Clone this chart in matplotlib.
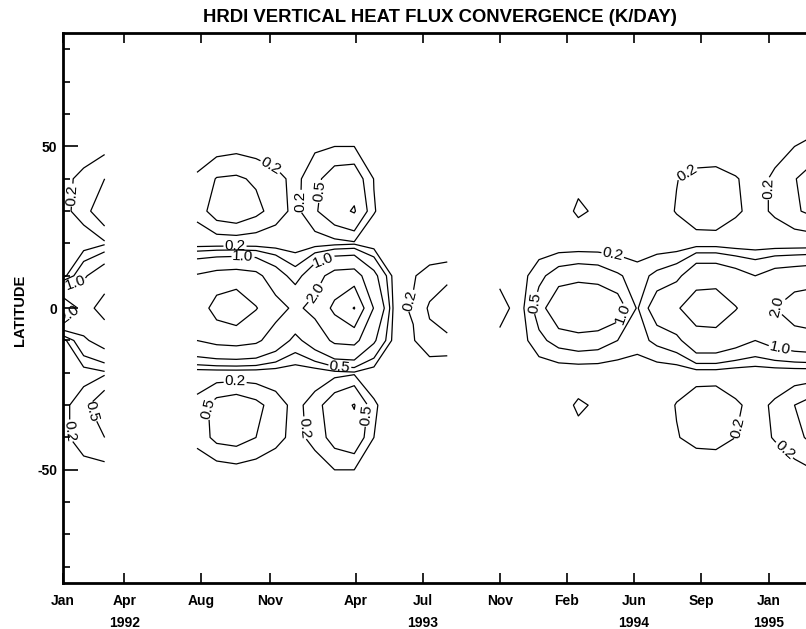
import numpy as np
import matplotlib
matplotlib.use("Agg")
import matplotlib.pyplot as plt

nan = float("nan")

# latitude rows of the grid
lats = [-60, -50, -40, -30, -20, -10, 0, 10, 20, 30, 40, 50, 60]

# sample times, days since 1 Jan 1992 (nan columns mark missing data)
days = [0, 32, 64, 135,
        205, 235, 265, 295, 325, 355, 385, 415, 445, 475, 505, 535, 560, 587, 627,
        667, 697, 727, 757, 787, 817, 847, 877, 907, 937, 967, 997, 1027, 1057,
        1087, 1117, 1147, 1177]

# vertical heat flux convergence (K/day), one latitude profile per time
conv = [
    [0, 0.0, 0.1, 0.1, 0.0, 0.05, 3.0, 0.05, 0.0, 0.1, 0.1, 0.0, 0],
    [0, 0.05, 0.4, 0.4, 0.05, 0.9, 1.6, 0.9, 0.0, 0.35, 0.3, 0.0, 0],
    [0, 0.1, 0.5, 0.8, 0.15, 1.3, 2.4, 1.5, 0.15, 0.8, 0.5, 0.1, 0],
    [nan] * 13,
    [0, 0.0, 0.3, 0.3, 0.0, 2.0, 2.4, 2.1, 0.0, 0.3, 0.25, 0.0, 0],
    [0, 0.05, 0.6, 0.65, 0.0, 2.3, 3.4, 2.4, 0.0, 0.7, 0.52, 0.05, 0],
    [0, 0.1, 0.65, 0.75, 0.0, 2.4, 3.7, 2.5, 0.0, 0.8, 0.55, 0.1, 0],
    [0, 0.05, 0.5, 0.6, 0.0, 2.2, 3.05, 2.3, 0.0, 0.6, 0.45, 0.05, 0],
    [0, 0.0, 0.3, 0.35, 0.0, 1.5, 2.4, 1.4, 0.0, 0.35, 0.3, 0.0, 0],
    [0, 0.0, 0.1, 0.1, 0.0, 0.8, 1.8, 0.7, 0.0, 0.11, 0.11, 0.0, 0],
    [0, 0.05, 0.3, 0.35, 0.0, 1.4, 2.3, 1.6, 0.05, 0.45, 0.4, 0.15, 0],
    [0, 0.2, 0.65, 0.75, 0.1, 2.2, 3.2, 2.4, 0.1, 0.8, 0.7, 0.2, 0],
    [0, 0.2, 0.8, 1.03, 0.15, 2.3, 4.05, 2.5, 0.15, 1.05, 0.75, 0.2, 0],
    [0, 0.05, 0.2, 0.25, 0.0, 1.1, 1.95, 1.2, 0.0, 0.22, 0.19, 0.05, 0],
    [0, 0, 0, 0, 0, 0.1, 0.15, 0.1, 0, 0, 0, 0, 0],
    [0, 0, 0, 0, 0, 0.18, 0.22, 0.18, 0, 0, 0, 0, 0],
    [0, 0, 0, 0, 0, 0.4, 0.55, 0.3, 0, 0, 0, 0, 0],
    [0, 0, 0, 0, 0, 0.38, 0.9, 0.35, 0, 0, 0, 0, 0],
    [nan] * 13,
    [0, 0, 0, 0, 0, 0.1, 0.35, 0.1, 0, 0, 0, 0, 0],
    [0, 0, 0, 0, 0, 0.05, 0.05, 0.05, 0, 0, 0, 0, 0],
    [0, 0, 0, 0, 0, 0.4, 0.7, 0.4, 0, 0, 0, 0, 0],
    [0, 0, 0, 0.05, 0, 0.65, 1.6, 0.7, 0, 0.05, 0, 0, 0],
    [0, 0, 0.1, 0.25, 0, 0.75, 1.8, 0.8, 0, 0.25, 0.12, 0, 0],
    [0, 0, 0.05, 0.15, 0, 0.7, 1.7, 0.75, 0, 0.15, 0.05, 0, 0],
    [0, 0, 0, 0, 0, 0.5, 1.37, 0.55, 0, 0, 0, 0, 0],
    [0, 0, 0, 0, 0, 0.35, 0.45, 0.35, 0, 0, 0, 0, 0],
    [0, 0, 0, 0, 0, 0.6, 1.45, 0.6, 0, 0.05, 0, 0, 0],
    [0, 0, 0.18, 0.22, 0, 0.8, 1.9, 0.8, 0, 0.22, 0.19, 0, 0],
    [0, 0, 0.3, 0.4, 0.05, 1.6, 2.5, 1.6, 0.05, 0.4, 0.3, 0, 0],
    [0, 0, 0.32, 0.42, 0.05, 1.6, 2.6, 1.6, 0.05, 0.42, 0.32, 0, 0],
    [0, 0, 0.2, 0.25, 0, 1.3, 2.05, 1.3, 0, 0.25, 0.22, 0, 0],
    [0, 0, 0.1, 0.1, 0, 1.0, 1.5, 1.0, 0, 0.1, 0.1, 0, 0],
    [0, 0.05, 0.22, 0.25, 0, 1.3, 2.0, 1.3, 0, 0.25, 0.25, 0.1, 0],
    [0, 0.1, 0.4, 0.5, 0, 1.5, 2.6, 1.4, 0, 0.45, 0.48, 0.2, 0],
    [0, 0.2, 0.6, 0.7, 0, 1.6, 2.8, 1.5, 0, 0.6, 0.7, 0.3, 0],
    [0, 0.2, 0.6, 0.7, 0, 1.6, 2.8, 1.5, 0, 0.6, 0.7, 0.3, 0],
]

levels = [0.2, 0.5, 1.0, 2.0, 3.0, 4.0]

# where the contour labels go (day, latitude)
label_spots = [
    (11, 35), (42, -32), (22, -38), (22, 6), (18, -4),
    (313, 42), (367, 33), (397, 36), (263, 19), (275, 15),
    (398, 15), (373, 6), (423, -17.6), (263, -22), (220, -31),
    (373, -37), (457, -33), (520, 3),
    (713, 2), (840, 17), (840, 0), (958, 40), (1085, 37),
    (1091, 0), (1029, -37), (1110, -42), (1095, -12),
]

tick_days = [0, 94, 211, 316, 447, 550, 667, 769, 872, 974, 1078]
tick_labels = ["Jan", "Apr\n1992", "Aug", "Nov", "Apr", "Jul\n1993", "Nov",
               "Feb", "Jun\n1994", "Sep", "Jan\n1995"]

plt.rcParams["font.family"] = ["Liberation Sans", "DejaVu Sans"]

fig = plt.figure(figsize=(8.06, 6.29), dpi=100)
ax = fig.add_axes([62.7 / 806, 46 / 629, 760 / 806, 549.7 / 629])

field = np.ma.masked_invalid(np.array(conv).T)
cs = ax.contour(days, lats, field, levels=levels, colors="black", linewidths=0.9)

ax.set_xlim(0, 1160)
ax.set_ylim(-85, 85)

ax.clabel(cs, fmt="%.1f", fontsize=11, inline=True, inline_spacing=1,
          manual=label_spots)

ax.set_xticks(tick_days)
ax.set_xticklabels(tick_labels, fontsize=10, fontweight="bold")
for t in ax.get_xticklabels():
    t.set_linespacing(1.7)
ax.tick_params(axis="x", direction="in", top=True, length=7, width=1.2, pad=8)

ax.set_yticks([-50, 0, 50])
ax.set_yticklabels(["-50", "0", "50"], fontsize=10, fontweight="bold")
ax.set_yticks(range(-80, 90, 10), minor=True)
ax.tick_params(axis="y", which="major", direction="in", length=11, width=1.2, pad=4)
ax.tick_params(axis="y", which="minor", direction="in", length=5, width=1.2)

for s in ax.spines.values():
    s.set_linewidth(2)

fig.text(439.5 / 806, 1 - 18 / 629, "HRDI VERTICAL HEAT FLUX CONVERGENCE (K/DAY)",
         ha="center", va="center", fontsize=13.3, fontweight="bold")
fig.text(20 / 806, 1 - 310 / 629, "LATITUDE", rotation=90, ha="center", va="center",
         fontsize=10.5, fontweight="bold")

fig.savefig("out.png", dpi=100)
